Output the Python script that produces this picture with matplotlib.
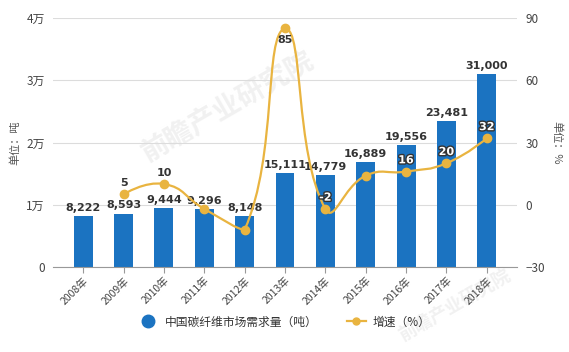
import numpy as np
import matplotlib.pyplot as plt
import matplotlib.patheffects as pe
from matplotlib.lines import Line2D
from matplotlib.path import Path
from matplotlib.patches import PathPatch

plt.rcParams['font.family'] = ['Noto Sans CJK SC', 'DejaVu Sans']

years = ['2008年', '2009年', '2010年', '2011年', '2012年', '2013年',
         '2014年', '2015年', '2016年', '2017年', '2018年']
demand = [8222, 8593, 9444, 9296, 8148, 15111, 14779, 16889, 19556, 23481, 31000]
growth_years = [1, 2, 3, 4, 5, 6, 7, 8, 9, 10]
growth = [5, 10, -2, -12, 85, -2, 14, 16, 20, 32]
# which growth labels are visible in the source chart
growth_shown = [True, True, False, False, True, True, False, True, True, True]

bar_color = '#1b73c1'
line_color = '#e9b440'

# pixel scale of the plot, used for the smoothing
PX_X = 40.4          # pixels per category
PX_Y = 62.25 / 30.0  # pixels per percent


def smooth_path(xs, ys, smooth=0.5):
    # bezier smoothing with control points kept inside the data box
    pts = np.column_stack([np.asarray(xs, float) * PX_X, np.asarray(ys, float) * PX_Y])
    lo, hi = pts.min(axis=0), pts.max(axis=0)
    cps = []
    n = len(pts)
    for i in range(n):
        if i == 0 or i == n - 1:
            cps.append(pts[i].copy())
            continue
        v = (pts[i + 1] - pts[i - 1]) * smooth
        d0 = np.linalg.norm(pts[i] - pts[i - 1])
        d1 = np.linalg.norm(pts[i] - pts[i + 1])
        s = d0 + d1
        d0, d1 = d0 / s, d1 / s
        cps.append(np.clip(pts[i] - v * d0, lo, hi))
        cps.append(np.clip(pts[i] + v * d1, lo, hi))
    verts = [pts[0]]
    codes = [Path.MOVETO]
    for i in range(n - 1):
        verts += [cps[2 * i], cps[2 * i + 1], pts[i + 1]]
        codes += [Path.CURVE4] * 3
    verts = np.array(verts) / np.array([PX_X, PX_Y])
    return Path(verts, codes)


fig = plt.figure(figsize=(5.69, 3.52), dpi=100)

# faint watermark behind the axes
for wx, wy, fs in [(0.40, 0.70, 20), (0.80, 0.13, 13)]:
    fig.text(wx, wy, '前瞻产业研究院', fontsize=fs, color='#f1f1f1', rotation=30,
             ha='center', va='center', zorder=-1, fontweight='bold')

ax = fig.add_axes([53 / 569, 1 - 267 / 352, 464 / 569, 249 / 352])
ax.patch.set_alpha(0)
ax2 = ax.twinx()

x = np.arange(len(years))
ax.bar(x, demand, width=0.47, color=bar_color, zorder=2)
ax.set_xlim(-0.75, len(years) - 0.25)
ax.set_ylim(0, 40000)
ax.set_yticks([0, 10000, 20000, 30000, 40000])
ax.set_yticklabels(['0', '1万', '2万', '3万', '4万'])
ax.grid(axis='y', color='#dcdcdc', linewidth=0.8, zorder=0)
ax.set_axisbelow(True)
for s in ['top', 'right', 'left']:
    ax.spines[s].set_visible(False)
ax.spines['bottom'].set_color('#999999')
ax.tick_params(axis='y', length=0, labelsize=8.5, colors='#444444', pad=6)
ax.set_xticks(x)
ax.set_xticklabels(years, rotation=45, ha='right', rotation_mode='anchor',
                   fontsize=7.5, color='#444444')
ax.tick_params(axis='x', length=4, color='#999999', pad=2)
ax.set_ylabel('单位：吨', fontsize=8, color='#555555', labelpad=4)

for xi, v in zip(x, demand):
    ax.text(xi, v + 500, f'{v:,}', ha='center', va='bottom', fontsize=8,
            fontweight='bold', color='#333333', family='DejaVu Sans', zorder=5)

ax2.set_ylim(-30, 90)
ax2.set_yticks([-30, 0, 30, 60, 90])
for s in ['top', 'right', 'left', 'bottom']:
    ax2.spines[s].set_visible(False)
ax2.tick_params(axis='y', length=0, labelsize=8.5, colors='#444444', pad=6)
ax2.set_ylabel('单位：%', fontsize=8, color='#555555', rotation=-90, labelpad=12)

ax2.add_patch(PathPatch(smooth_path(growth_years, growth), facecolor='none',
                        edgecolor=line_color, linewidth=1.6, zorder=3))
ax2.plot(growth_years, growth, 'o', color=line_color, markersize=6, zorder=4)

for xi, v, show in zip(growth_years, growth, growth_shown):
    if not show:
        continue
    if v > 50:
        ax2.text(xi, v - 3, str(v), ha='center', va='top', fontsize=8,
                 fontweight='bold', color='#333333', family='DejaVu Sans', zorder=6)
    elif v > 0 and xi <= 5:
        ax2.text(xi, v + 3, str(v), ha='center', va='bottom', fontsize=8,
                 fontweight='bold', color='#333333', family='DejaVu Sans', zorder=6)
    else:
        t = ax2.text(xi, v + 3, str(v), ha='center', va='bottom', fontsize=8,
                     fontweight='bold', color='white', family='DejaVu Sans', zorder=6)
        t.set_path_effects([pe.withStroke(linewidth=2, foreground='#333333')])

handles = [
    Line2D([], [], marker='o', linestyle='none', color=bar_color, markersize=9),
    Line2D([], [], marker='o', color=line_color, markersize=5, linewidth=1.6),
]
fig.legend(handles, ['中国碳纤维市场需求量（吨）', '增速（%）'], loc='center',
           bbox_to_anchor=(0.5, 1 - 322 / 352), ncol=2, frameon=False,
           fontsize=8.5, handlelength=1.6, columnspacing=2.5, handletextpad=0.6,
           labelcolor='#333333')

fig.savefig('out.png', dpi=100)
